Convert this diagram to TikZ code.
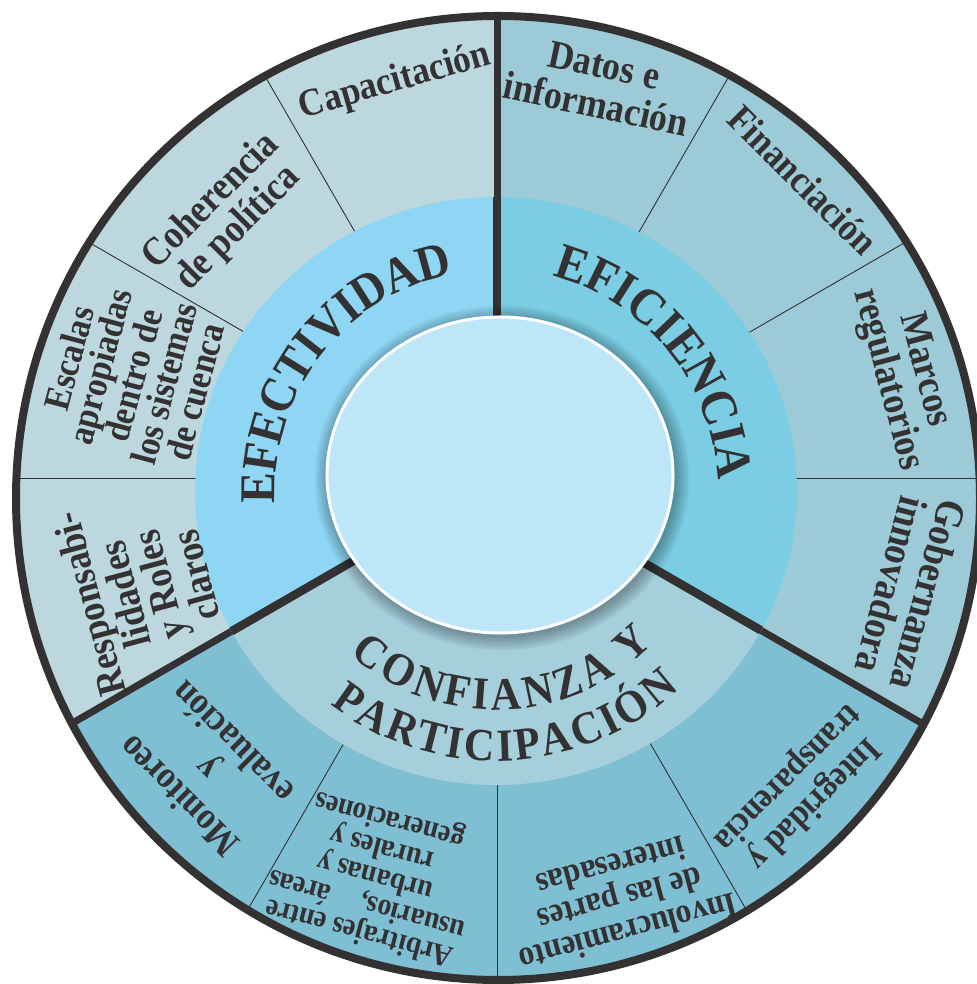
\documentclass[tikz,border=0pt]{standalone}
\usepackage{fontspec}
\setmainfont{Liberation Serif}
\newfontfamily\lblfont{Liberation Serif}[FakeStretch=0.9]
\newfontfamily\midfam{Liberation Serif}[FakeStretch=0.92]
\usetikzlibrary{decorations.text,calc}
\definecolor{dark}{HTML}{333132}
\definecolor{oEfe}{HTML}{BCD7DD}
\definecolor{oEfi}{HTML}{9CCAD6}
\definecolor{oCon}{HTML}{7FBFD3}
\definecolor{mEfe}{HTML}{8ED6F3}
\definecolor{mEfi}{HTML}{7ACDE2}
\definecolor{mCon}{HTML}{A5CFDB}
\definecolor{inner}{HTML}{BDE6F8}
\newcommand\midbig{\midfam\fontsize{51}{51}\selectfont\bfseries}
\newcommand\midmed{\midfam\fontsize{50}{50}\selectfont\bfseries}
\newcommand\midsmall{\midfam\fontsize{46}{46}\selectfont\bfseries}
\newcommand\lblsize[2]{\lblfont\bfseries\fontsize{#1}{#2}\selectfont}
\tikzset{
  lbl/.style={text=dark, font=\lblsize{40}{38}, align=center, inner sep=0pt},
  thinline/.style={draw=dark, line width=0.9pt},
  thickline/.style={draw=dark, line width=7pt},
  thickmid/.style={draw=dark, line width=8.5pt},
  arcbig/.style={decorate, decoration={text along path, raise=-17pt, text color=dark, text align=fit to path, text={|\midbig|#1}}},
  arcmed/.style={decorate, decoration={text along path, raise=-17pt, text color=dark, text align=fit to path, text={|\midmed|#1}}},
  arcsmall/.style={decorate, decoration={text along path, raise=-15pt, text color=dark, text align=fit to path, text={|\midsmall|#1}}}
}
\begin{document}
\begin{tikzpicture}[x=1pt,y=1pt]
\useasboundingbox (0,0) rectangle (976,984);
\coordinate (H) at (497,506);
\coordinate (O) at (498,486);
\coordinate (M) at (496,493);
\coordinate (I) at (500,509);

% outer ring
\begin{scope}
\clip (O) circle (482);
\fill[oEfe] (H) -- ++(90:800) arc[start angle=90,end angle=210,radius=800] -- cycle;
\fill[oEfi] (H) -- ++(-30:800) arc[start angle=-30,end angle=90,radius=800] -- cycle;
\fill[oCon] (H) -- ++(210:800) arc[start angle=210,end angle=330,radius=800] -- cycle;
\foreach \a in {0,30,60,120,150,180,240,270,300} \draw[thinline] (H) -- ++(\a:800);
\foreach \a in {90,210,330} \draw[thickline] (H) -- ++(\a:800);
\end{scope}

% middle ring
\begin{scope}
\clip (M) ellipse[x radius=301, y radius=294];
\fill[mEfe] (H) -- ++(90:800) arc[start angle=90,end angle=210,radius=800] -- cycle;
\fill[mEfi] (H) -- ++(-30:800) arc[start angle=-30,end angle=90,radius=800] -- cycle;
\fill[mCon] (H) -- ++(210:800) arc[start angle=210,end angle=330,radius=800] -- cycle;
\foreach \a in {90,210,330} \draw[thickmid] (H) -- ++(\a:800);
\end{scope}

% shadow and inner ellipse
\foreach \k in {1,...,9} {
  \pgfmathsetmacro\rx{173+1.6*\k}
  \pgfmathsetmacro\ry{158+1.6*\k}
  \fill[black, opacity=0.035] ($(I)+(2,-3)$) ellipse[x radius=\rx, y radius=\ry];
}
\fill[inner, draw=white, line width=3pt] (I) ellipse[x radius=173, y radius=158];

% outer border
\draw[dark, line width=8pt] (O) circle (482);

% middle labels
\path[arcmed={EFECTIVIDAD}] ($(M)+(183:238)$) arc[start angle=183, end angle=101.5, radius=238];
\path[arcbig={EFICIENCIA}] ($(M)+(75:239)$) arc[start angle=75, end angle=3, radius=239];
\path[arcsmall={CONFIANZA Y}] ($(M)+(228:204)$) arc[start angle=228, end angle=316, radius=204];
\path[arcsmall={PARTICIPACIÓN}] ($(M)+(232:255)$) arc[start angle=232, end angle=313, radius=255];

% outer labels
\node[lbl, font=\lblsize{39}{38}, rotate=16] (cap) at (395,902) {Capacitación};
\node[lbl, font=\lblsize{40}{38}, rotate=45] (coh) at (225,769) {Coherencia\\de política};
\node[lbl, font=\lblsize{37}{32}, rotate=75] (esc) at (132,609) {Escalas\\apropiadas\\dentro de\\los sistemas\\de cuenca};
\node[lbl, font=\lblsize{40}{36}, rotate=105] (res) at (142,394) {Responsabi-\\lidades\\y Roles\\claros};
\node[lbl, font=\lblsize{40}{40}, rotate=-12] (dat) at (600,899) {Datos e\\información};
\node[lbl, font=\lblsize{39}{38}, rotate=-45] (fin) at (803,804) {Financiación};
\node[lbl, font=\lblsize{40}{38}, rotate=-75] (mar) at (905,609) {Marcos\\regulatorios};
\node[lbl, font=\lblsize{41}{38}, rotate=-105] (gob) at (910,394) {Gobernanza\\innovadora};
\node[lbl, font=\lblsize{36}{37}, rotate=-135] (int) at (800,194) {Integridad y\\transparencia};
\node[lbl, font=\lblsize{35}{34}, rotate=195] (inv) at (620,84) {Involucramiento\\de las partes\\interesadas};
\node[lbl, font=\lblsize{31}{29}, rotate=165] (arb) at (375,109) {Arbitrajes entre\\usuarios,\quad áreas\\urbanas y\\rurales y\\generaciones};
\node[lbl, font=\lblsize{38}{38}, rotate=135] (mon) at (205,214) {Monitoreo\\y\\evaluación};
\end{tikzpicture}
\end{document}
